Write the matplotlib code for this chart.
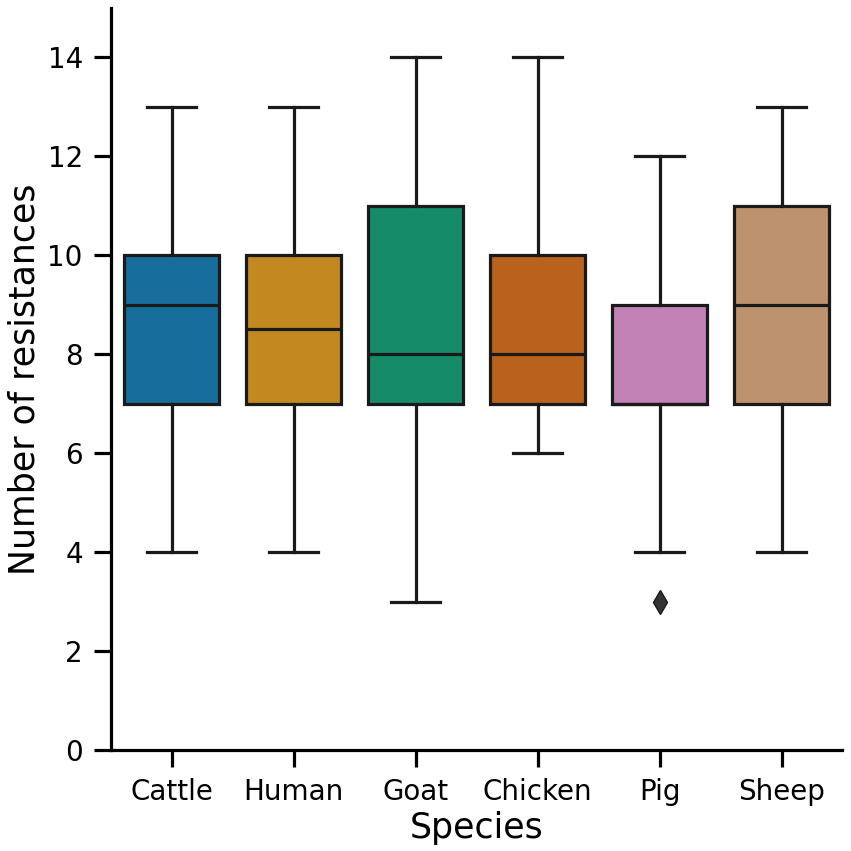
import matplotlib
matplotlib.use("Agg")
import matplotlib.pyplot as plt
import seaborn as sns

species = ["Cattle", "Human", "Goat", "Chicken", "Pig", "Sheep"]
whislo = [4, 4, 3, 6, 4, 4]
q1 = [7, 7, 7, 7, 7, 7]
med = [9, 8.5, 8, 8, 7, 9]
q3 = [10, 10, 11, 10, 9, 11]
whishi = [13, 13, 14, 14, 12, 13]
fliers = [[], [], [], [], [3], []]
yticks = [0, 2, 4, 6, 8, 10, 12, 14]

base = sns.color_palette("colorblind", 6)
colors = [sns.desaturate(c, 0.75) for c in base]

fig, ax = plt.subplots(figsize=(8.51, 8.51), dpi=100)
stats = []
for i, s in enumerate(species):
    stats.append(dict(label=s, whislo=whislo[i], q1=q1[i], med=med[i],
                      q3=q3[i], whishi=whishi[i], fliers=fliers[i]))
lw = 2.3
bp = ax.bxp(stats, positions=range(len(species)), widths=0.78, patch_artist=True,
            boxprops=dict(linewidth=lw, edgecolor="#1a1a1a"),
            medianprops=dict(linewidth=lw, color="#1a1a1a"),
            whiskerprops=dict(linewidth=lw, color="#1a1a1a"),
            capprops=dict(linewidth=lw, color="#1a1a1a"),
            flierprops=dict(marker="d", markersize=12, markerfacecolor="#333333",
                            markeredgecolor="#1a1a1a"),
            capwidths=0.4)
for patch, c in zip(bp["boxes"], colors):
    patch.set_facecolor(c)

ax.set_xlim(-0.5, 5.5)
ax.set_ylim(0, 15)
ax.set_yticks(yticks)
ax.set_xticks(range(len(species)))
ax.set_xticklabels(species)
ax.spines["top"].set_visible(False)
ax.spines["right"].set_visible(False)
for sp in ["left", "bottom"]:
    ax.spines[sp].set_linewidth(lw)
ax.tick_params(axis="both", labelsize=20, width=lw, length=12, pad=8)
ax.set_xlabel("Species", fontsize=25)
ax.set_ylabel("Number of resistances", fontsize=25)
fig.subplots_adjust(left=0.13, right=0.99, top=0.991, bottom=0.1187)
fig.savefig("out.png", dpi=100)
